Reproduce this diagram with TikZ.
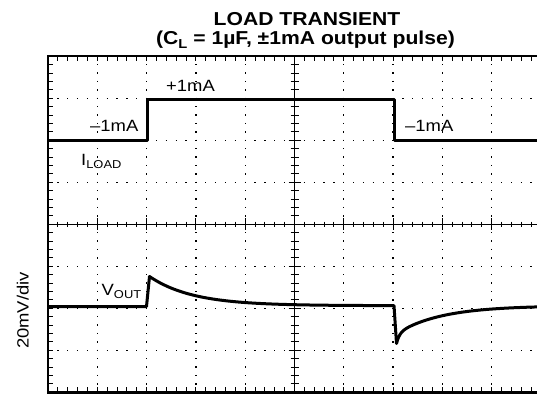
\documentclass[tikz,border=0pt]{standalone}
\usepackage{fontspec}
\newfontfamily\hv{Liberation Sans}[FakeStretch=1.13]
\begin{document}
\begin{tikzpicture}[x=1pt,y=-1pt,
  frameline/.style={line width=2.4pt,line cap=rect},
  trace/.style={line width=3pt,line join=round},
  axisline/.style={line width=1.1pt},
  tickline/.style={line width=1pt},
  hdots/.style={line width=1.3pt,dash pattern=on 1.3pt off 8.56pt,dash phase=0.65pt},
  vdots/.style={line width=1.3pt,dash pattern=on 1.3pt off 7.1pt,dash phase=0.65pt},
  lbl/.style={inner sep=0pt,anchor=base west,font=\hv\fontsize{16.3}{19}\selectfont},
  ttl/.style={inner sep=0pt,anchor=base,font=\hv\bfseries\fontsize{18.7}{22}\selectfont}]
\useasboundingbox (0,0) rectangle (537,393);
\fill[white] (0,0) rectangle (537,393);
\begin{scope}
\clip (0,0) rectangle (537,393);
% dotted graticule
\foreach \i in {1,...,9} \draw[vdots] ({48+\i*49.3},56.3) -- ({48+\i*49.3},392.3);
\foreach \j in {1,...,7} \draw[hdots] (48,{56.3+\j*42}) -- (545,{56.3+\j*42});
% frame ticks
\foreach \k in {1,...,50} {
  \draw[tickline] ({48+\k*9.86},56.3) -- ++(0,5);
  \draw[tickline] ({48+\k*9.86},392.3) -- ++(0,-5);
  \draw[tickline] ({48+\k*9.86},221.5) -- ++(0,5.6);
}
\foreach \k in {1,...,39} {
  \draw[tickline] (48,{56.3+\k*8.4}) -- ++(5,0);
  \draw[tickline] (290.5,{56.3+\k*8.4}) -- ++(8,0);
}
\foreach \i in {1,...,10} \draw[tickline] ({48+\i*49.3},218.3) -- ++(0,12);
\foreach \j in {1,...,7} \draw[tickline] (288.5,{56.3+\j*42}) -- ++(12,0);
% centre axes
\draw[axisline] (48,224.3) -- (545,224.3);
\draw[axisline] (294.5,56.3) -- (294.5,392.3);
% frame
\draw[frameline] (545,56.3) -- (48,56.3) -- (48,396);
\draw[frameline] (48,392.3) -- (545,392.3);
% I_LOAD trace
\draw[trace] (48,140.5) -- (147,140.5) -- (147,99.5) -- (394,99.5) -- (394,140.5) -- (545,140.5);
% V_OUT trace
\draw[trace] (48,306.5) -- (146.5,306.5) -- (149.5,276.5)
  -- plot[domain=149.5:394,samples=90] (\x,{305.7-29.2*exp(-(\x-149.5)/43)})
  -- (396.5,343.5)
  -- plot[domain=396.5:540,samples=120] (\x,{305.7+10*exp(-(\x-396.5)/3)+27.8*exp(-(\x-396.5)/45)});
\end{scope}
% labels
\node[ttl] (t1) at (307,25.5) {LOAD TRANSIENT};
\node[ttl] (t2) at (305.5,45) {(C\raisebox{-3.5pt}{\fontsize{13}{14}\selectfont L} = 1µF, ±1mA output pulse)};
\node[lbl] (plus) at (166,91.5) {+1mA};
\node[lbl] (minl) at (90,131.7) {–1mA};
\node[lbl] (minr) at (405,131.7) {–1mA};
\node[lbl] (iload) at (81,165) {I\raisebox{-3.5pt}{\fontsize{11.4}{12}\selectfont LOAD}};
\node[lbl] (vout) at (101.5,295) {V\raisebox{-3.5pt}{\fontsize{11.4}{12}\selectfont OUT}};
\node[lbl,anchor=center,rotate=90] (ydiv) at (22.7,310.5) {20mV/div};
\end{tikzpicture}
\end{document}
